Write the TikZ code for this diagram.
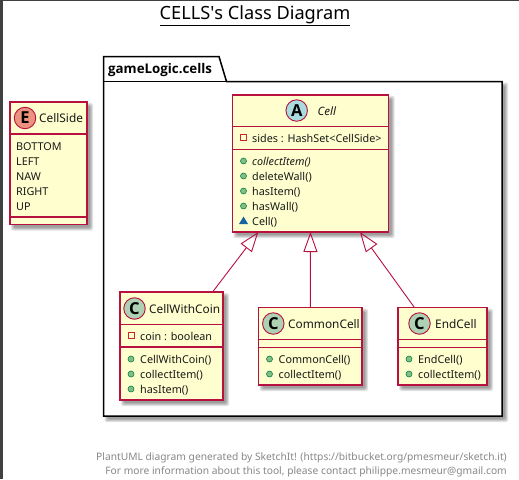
\documentclass[tikz,border=0pt]{standalone}
\usepackage{fontspec}
\setmainfont{Noto Sans}
\newfontfamily\heavyfam{Open Sans}[UprightFont=* Bold,BoldFont=* Bold]
\usetikzlibrary{arrows.meta}
\definecolor{umlborder}{HTML}{B8103F}
\definecolor{umlfill}{HTML}{FEFECE}
\definecolor{circE}{HTML}{EB937F}
\definecolor{circA}{HTML}{A9DCDF}
\definecolor{circC}{HTML}{ADD1B2}
\definecolor{pubfill}{HTML}{84BE84}
\definecolor{publine}{HTML}{038048}
\definecolor{privline}{HTML}{C82930}
\definecolor{pkgfill}{HTML}{1963A0}
\definecolor{footgray}{HTML}{888888}
\tikzset{
  classbox/.style={draw=umlborder,fill=umlfill,line width=1.3pt,inner sep=0pt,outer sep=0pt},
  sepline/.style={draw=umlborder,line width=1.1pt},
  member/.style={anchor=base west,inner sep=0pt,font=\fontsize{10.8}{12}\selectfont,text=black!90},
  classname/.style={anchor=base west,inner sep=0pt,font=\fontsize{11.85}{14}\selectfont,text=black!90},
  badge/.style={circle,draw=umlborder,line width=.9pt,minimum size=21.5pt,inner sep=0pt,font=\fontsize{16.5}{16}\heavyfam},
  extends/.style={draw=umlborder,line width=.9pt,-{Triangle[open,length=20pt,width=14pt]}},
  footer/.style={anchor=base east,inner sep=0pt,text=footgray,font=\fontsize{10.25}{12}\selectfont},
}
% soft offset shadow
\newcommand{\softshadow}[4]{%
  \foreach \d in {3,2,1,0}{%
    \fill[black,opacity=0.11,rounded corners=1.5pt]
      ({#1+4-\d},{#2+4-\d}) rectangle ({#3+3+\d},{#4+3+\d});}}
\newcommand{\cbox}[5]{%
  \softshadow{#2}{#3}{#4}{#5}%
  \pgfmathsetmacro\cx{(#2+#4)/2}\pgfmathsetmacro\cy{(#3+#5)/2}%
  \pgfmathsetmacro\cw{#4-#2}\pgfmathsetmacro\ch{#5-#3}%
  \node[classbox,minimum width=\cw pt,minimum height=\ch pt] (#1) at (\cx,\cy) {};}
\newcommand{\sepat}[2]{\draw[sepline] (#1.west |- 0,#2) -- (#1.east |- 0,#2);}
\newcommand{\pubic}[2]{\fill[pubfill,draw=publine,line width=.6pt] (#1,#2) circle (3pt);}
\newcommand{\privic}[2]{\draw[privline,line width=.9pt] ({#1-3},{#2-3}) rectangle ({#1+3},{#2+3});}
\begin{document}
\begin{tikzpicture}[x=1pt,y=-1pt]
\useasboundingbox (0,0) rectangle (519,479);
\fill[white] (0,0) rectangle (519,479);
\fill[black!75] (0,0) rectangle (3,479);
\fill[black!75] (0,0) rectangle (519,1);
% title
\node[inner sep=0pt,anchor=base] (title) at (255,19.5) {\fontsize{18.2}{20}\selectfont\underline{CELLS\textquotesingle s Class Diagram}};
% package
\softshadow{103.5}{81.5}{502}{416}
\draw[black,fill=white,line width=1.5pt] (103.5,81.5) -- (103.5,56.5) -- (219,56.5) -- (226.5,81.5) -- (502,81.5) -- (502,416) -- (103.5,416) -- cycle;
\draw[black,line width=1.3pt] (103.5,81.5) -- (226.5,81.5);
\node[anchor=base west,inner sep=0pt,font=\fontsize{13.3}{15}\heavyfam] (pkgname) at (108,73.5) {gameLogic.cells};
% CellSide
\cbox{cellside}{10}{102}{87}{224.5}
\sepat{cellside}{134}
\sepat{cellside}{217}
\node[badge,fill=circE] (badgeE) at (25,118) {E};
\node[classname] (cellsidename) at (39,122.5) {CellSide};
\node[member] (sbottom) at (16,150) {BOTTOM};
\node[member] (sleft) at (16,165) {LEFT};
\node[member] (snaw) at (16,180) {NAW};
\node[member] (sright) at (16,195) {RIGHT};
\node[member] (sup) at (16,210) {UP};
% Cell
\cbox{cell}{232.5}{95}{388.5}{232}
\sepat{cell}{126.5}
\sepat{cell}{149.5}
\node[badge,fill=circA] (badgeA) at (296.7,110.5) {A};
\node[classname,font=\fontsize{11.5}{14}\selectfont\itshape] (cellname) at (317.5,115) {Cell};
\privic{243.5}{137.5}
\node[member] (csides) at (252,142) {sides : HashSet<CellSide>};
\pubic{243.5}{161}
\node[member,font=\fontsize{10.8}{12}\selectfont\itshape] (ccollect) at (252,165.5) {collectItem()};
\pubic{243.5}{176}
\node[member] (cdelete) at (252,180.5) {deleteWall()};
\pubic{243.5}{191}
\node[member] (chasitem) at (252,195.5) {hasItem()};
\pubic{243.5}{206}
\node[member] (chaswall) at (252,210.5) {hasWall()};
\fill[pkgfill] (243.5,216.5) -- (248,224) -- (239,224) -- cycle;
\node[member] (cctor) at (252,225.5) {Cell()};
% CellWithCoin
\cbox{coin}{120}{292}{223}{400}
\sepat{coin}{324.7}
\sepat{coin}{347}
\node[badge,fill=circC] (badgeCa) at (134.5,308.5) {C};
\node[classname] (coinname) at (149,313) {CellWithCoin};
\privic{131}{335.5}
\node[member] (ccoin) at (140,340) {coin : boolean};
\pubic{131}{359}
\node[member] (coinctor) at (140,363.5) {CellWithCoin()};
\pubic{131}{374}
\node[member] (coincollect) at (140,378.5) {collectItem()};
\pubic{131}{389}
\node[member] (coinhas) at (140,393.5) {hasItem()};
% CommonCell
\cbox{common}{258.7}{307.7}{362}{385}
\sepat{common}{339.3}
\sepat{common}{347.3}
\node[badge,fill=circC] (badgeCb) at (273.3,323.5) {C};
\node[classname] (commonname) at (288,328) {CommonCell};
\pubic{269.5}{359}
\node[member] (commonctor) at (278.5,363.5) {CommonCell()};
\pubic{269.5}{374}
\node[member] (commoncollect) at (278.5,378.5) {collectItem()};
% EndCell
\cbox{endc}{398}{307.7}{487}{385}
\sepat{endc}{339.3}
\sepat{endc}{347.3}
\node[badge,fill=circC] (badgeCc) at (419.5,323.5) {C};
\node[classname] (endname) at (435,328) {EndCell};
\pubic{409}{359}
\node[member] (endctor) at (418,363.5) {EndCell()};
\pubic{409}{374}
\node[member] (endcollect) at (418,378.5) {collectItem()};
% inheritance
\draw[extends] (coin) -- (cell);
\draw[extends] (common) -- (cell);
\draw[extends] (endc) -- (cell);
% footer
\node[footer] (footA) at (507,460) {PlantUML diagram generated by SketchIt! (https://bitbucket.org/pmesmeur/sketch.it)};
\node[footer] (footB) at (507,474) {For more information about this tool, please contact philippe.mesmeur@gmail.com};
\end{tikzpicture}
\end{document}
